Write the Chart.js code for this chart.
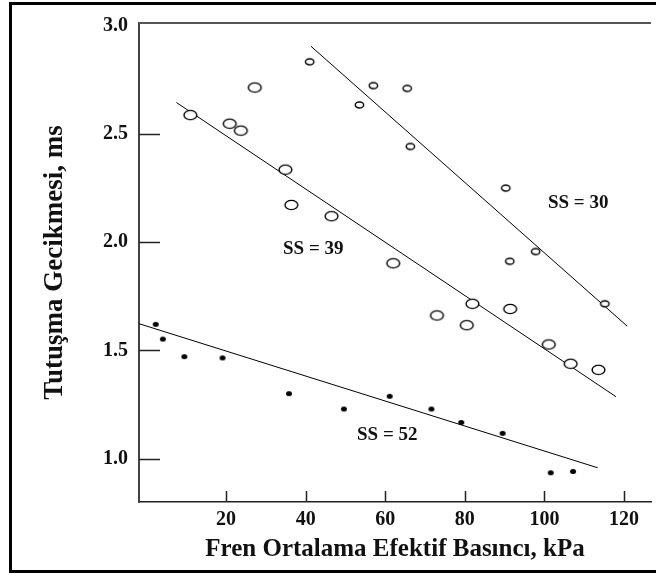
<!DOCTYPE html>
<html>
<head>
<meta charset="utf-8">
<script src="https://cdn.jsdelivr.net/npm/chart.js@4.4.1/dist/chart.umd.min.js"></script>
<style>
  html, body { margin: 0; padding: 0; background: #fff; }
  #wrap { width: 656px; height: 574px; }
</style>
</head>
<body>
<div id="wrap"><canvas id="chart" width="656" height="574"></canvas></div>
<script>
// SS = 30 (small open circles)
const ss30Pressure = [41.0, 53.5, 57.0, 65.5, 66.3, 90.3, 91.3, 97.8, 115.2];
const ss30Delay    = [2.832, 2.633, 2.722, 2.709, 2.441, 2.249, 1.911, 1.956, 1.715];

// SS = 39 (large open circles)
const ss39Pressure = [11.0, 20.9, 23.7, 27.2, 34.9, 36.4, 46.5, 62.0, 73.0, 80.5, 81.9, 91.4, 101.1, 106.6, 113.6];
const ss39Delay    = [2.586, 2.546, 2.514, 2.713, 2.334, 2.171, 2.119, 1.902, 1.661, 1.616, 1.715, 1.691, 1.527, 1.438, 1.410];

// SS = 52 (filled dots)
const ss52Pressure = [2.3, 4.1, 9.5, 19.1, 35.8, 49.6, 61.1, 71.6, 79.1, 89.5, 101.6, 107.2];
const ss52Delay    = [1.620, 1.552, 1.471, 1.465, 1.300, 1.229, 1.288, 1.229, 1.167, 1.117, 0.935, 0.941];

// fitted lines (end points)
const ss30LineX = [41.3, 120.8];
const ss30LineY = [2.904, 1.612];
const ss39LineX = [7.5, 118.0];
const ss39LineY = [2.644, 1.286];
const ss52LineX = [-1.9, 113.4];
const ss52LineY = [1.623, 0.958];

// in-plot labels
const seriesLabels = ['SS = 30', 'SS = 39', 'SS = 52'];
const labelX = [108.5, 41.9, 60.5];
const labelY = [2.18, 1.968, 1.11];

// axes
const xTicks = [20, 40, 60, 80, 100, 120];
const yTicks = [1.0, 1.5, 2.0, 2.5, 3.0];

const SERIF = '"Liberation Serif", "Times New Roman", serif';

function zip(xs, ys) {
    return xs.map((x, i) => ({ x: x, y: ys[i] }));
}

// elliptical marker drawn on a small canvas
function ellipseMarker(rx, ry, filled) {
    const c = document.createElement('canvas');
    c.width = Math.ceil(rx * 2 + 4);
    c.height = Math.ceil(ry * 2 + 4);
    const g = c.getContext('2d');
    g.beginPath();
    g.ellipse(c.width / 2, c.height / 2, rx, ry, 0, 0, Math.PI * 2);
    if (filled) {
        g.fillStyle = '#000';
        g.fill();
    } else {
        g.fillStyle = '#fff';
        g.fill();
        g.lineWidth = 1.4;
        g.strokeStyle = '#000';
        g.stroke();
    }
    return c;
}

const smallRing = ellipseMarker(4.2, 3, false);
const bigRing = ellipseMarker(6.4, 4.6, false);
const dot = ellipseMarker(3, 2.5, true);

function lineSet(xs, ys) {
    return {
        type: 'line',
        data: zip(xs, ys),
        borderColor: '#000',
        borderWidth: 1,
        pointRadius: 0,
        fill: false,
        order: 2
    };
}

const framePlugin = {
    id: 'frame',
    beforeDraw(chart) {
        const ctx = chart.ctx;
        ctx.save();
        ctx.fillStyle = '#fff';
        ctx.fillRect(0, 0, chart.width, chart.height);
        ctx.restore();
    },
    afterDraw(chart) {
        const ctx = chart.ctx;
        const area = chart.chartArea;
        const xs = chart.scales.x, ys = chart.scales.y;
        ctx.save();
        // outer frame
        ctx.fillStyle = '#000';
        ctx.fillRect(9, 2, 647, 3);
        ctx.fillRect(9, 570, 647, 3);
        ctx.fillRect(9, 2, 3, 571);
        // top line of plot box
        ctx.strokeStyle = '#555';
        ctx.lineWidth = 2;
        ctx.beginPath();
        ctx.moveTo(area.left, area.top);
        ctx.lineTo(area.right, area.top);
        ctx.stroke();
        // inward tick marks
        ctx.strokeStyle = '#222';
        ctx.lineWidth = 1.5;
        ctx.beginPath();
        yTicks.forEach(v => {
            if (v >= 3) return;
            const py = Math.round(ys.getPixelForValue(v)) + 0.5;
            ctx.moveTo(area.left, py);
            ctx.lineTo(area.left + 21, py);
        });
        xTicks.forEach(v => {
            const px = Math.round(xs.getPixelForValue(v)) + 0.5;
            ctx.moveTo(px, area.bottom);
            ctx.lineTo(px, area.bottom - 11);
        });
        ctx.stroke();
        // series labels
        ctx.fillStyle = '#111';
        ctx.font = 'bold 19px ' + SERIF;
        ctx.textAlign = 'center';
        ctx.textBaseline = 'middle';
        seriesLabels.forEach((t, i) => {
            ctx.fillText(t, xs.getPixelForValue(labelX[i]), ys.getPixelForValue(labelY[i]));
        });
        ctx.restore();
    }
};

new Chart(document.getElementById('chart'), {
    type: 'scatter',
    data: {
        datasets: [
            { label: 'SS = 30', data: zip(ss30Pressure, ss30Delay), pointStyle: smallRing, order: 1 },
            { label: 'SS = 39', data: zip(ss39Pressure, ss39Delay), pointStyle: bigRing, order: 1 },
            { label: 'SS = 52', data: zip(ss52Pressure, ss52Delay), pointStyle: dot, order: 1 },
            lineSet(ss30LineX, ss30LineY),
            lineSet(ss39LineX, ss39LineY),
            lineSet(ss52LineX, ss52LineY)
        ]
    },
    options: {
        responsive: false,
        animation: false,
        devicePixelRatio: 1,
        layout: { padding: { top: 12, left: 0, right: 0, bottom: 0 } },
        plugins: {
            legend: { display: false },
            tooltip: { enabled: false }
        },
        scales: {
            x: {
                type: 'linear',
                min: -1.9,
                max: 126.8,
                afterBuildTicks: s => { s.ticks = xTicks.map(v => ({ value: v })); },
                afterFit: s => { s.height = 72; },
                grid: { display: false, drawTicks: false },
                border: { display: true, color: '#222', width: 1.5 },
                ticks: {
                    padding: 6,
                    color: '#111',
                    font: { family: SERIF, size: 20, weight: 'bold' }
                },
                title: {
                    display: true,
                    text: 'Fren Ortalama Efektif Basıncı, kPa',
                    color: '#111',
                    font: { family: SERIF, size: 25, weight: 'bold' },
                    padding: { top: 0, bottom: 9 }
                }
            },
            y: {
                type: 'linear',
                min: 0.8,
                max: 3.011,
                afterBuildTicks: s => { s.ticks = yTicks.map(v => ({ value: v })); },
                afterFit: s => { s.width = 139; },
                grid: { display: false, drawTicks: false },
                border: { display: true, color: '#444', width: 2 },
                ticks: {
                    padding: 11,
                    color: '#111',
                    font: { family: SERIF, size: 20, weight: 'bold' },
                    callback: v => Number(v).toFixed(1)
                },
                title: {
                    display: true,
                    text: 'Tutuşma Gecikmesi, ms',
                    color: '#111',
                    font: { family: SERIF, size: 27, weight: 'bold' },
                    padding: { top: 39, bottom: 0 }
                }
            }
        }
    },
    plugins: [framePlugin]
});
</script>
</body>
</html>
